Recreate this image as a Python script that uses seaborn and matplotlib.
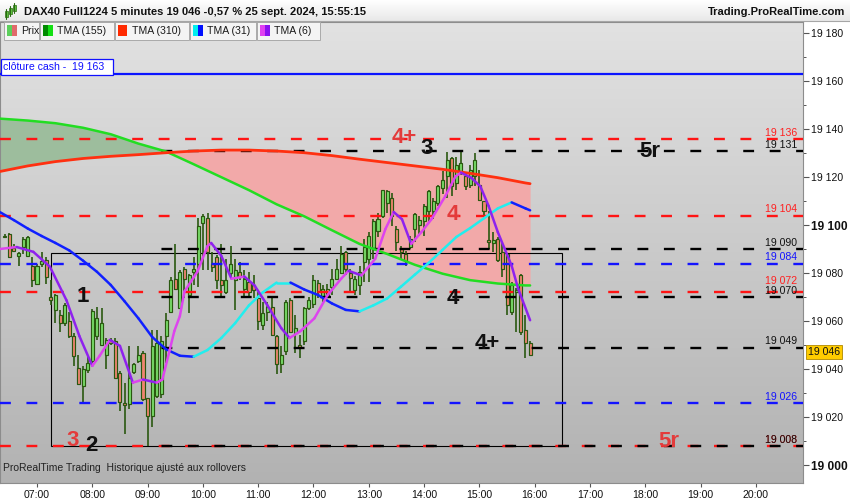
import numpy as np
import matplotlib
matplotlib.use('Agg')
import matplotlib.pyplot as plt
import matplotlib.transforms as mtransforms
import seaborn as sns
from matplotlib.patches import Rectangle
from matplotlib.lines import Line2D
from matplotlib.collections import LineCollection
from matplotlib.colors import LinearSegmentedColormap

# ── 1. Data ──────────────────────────────────────────────────
first_bar = '06:25'   # 5-minute bars, last one at 15:55

bar_open = [
    19095.5, 19096.3, 19090.5, 19087.1, 19090.8, 19087.3, 19083.2, 19075.7, 19084.0, 19085.3,
    19070.0, 19064.7, 19062.6, 19059.2, 19059.9, 19053.7, 19040.6, 19033.0, 19039.8, 19043.4,
    19053.7, 19050.2, 19046.1, 19052.0, 19051.6, 19038.5, 19026.0, 19025.5, 19038.8, 19043.4,
    19046.8, 19028.2, 19020.7, 19028.9, 19029.6, 19053.7, 19064.0, 19077.7, 19065.4, 19081.9,
    19070.8, 19080.5, 19083.9, 19101.1, 19103.2, 19084.0, 19086.7, 19077.0, 19072.2, 19080.0,
    19077.0, 19080.5, 19073.6, 19076.3, 19075.0, 19069.5, 19058.5, 19064.0, 19066.0, 19053.7,
    19042.0, 19047.5, 19068.8, 19055.0, 19050.0, 19051.6, 19065.4, 19067.0, 19076.0, 19070.0,
    19073.6, 19074.3, 19077.7, 19080.0, 19088.7, 19080.0, 19072.9, 19075.0, 19084.6, 19086.0,
    19090.1, 19097.7, 19103.8, 19109.3, 19111.4, 19098.3, 19090.0, 19088.0, 19090.8, 19098.3,
    19100.0, 19101.8, 19105.9, 19105.9, 19109.3, 19115.5, 19120.3, 19127.9, 19117.6, 19121.7,
    19120.3, 19116.9, 19120.3, 19116.9, 19110.0, 19094.0, 19092.5, 19094.2, 19088.7, 19087.9,
    19064.0, 19072.0, 19079.1, 19056.4, 19050.9]
bar_high = [
    19096.5, 19096.8, 19092.2, 19088.7, 19094.9, 19095.5, 19086.7, 19083.9, 19088.7, 19086.7,
    19077.0, 19071.5, 19064.7, 19067.4, 19064.0, 19055.0, 19046.1, 19041.3, 19045.4, 19065.0,
    19065.8, 19065.4, 19053.0, 19053.0, 19053.0, 19039.2, 19034.4, 19049.5, 19042.7, 19049.5,
    19047.5, 19028.2, 19056.4, 19056.4, 19053.7, 19063.3, 19078.4, 19092.2, 19081.5, 19082.5,
    19079.8, 19086.7, 19103.2, 19104.5, 19105.0, 19088.7, 19087.4, 19092.2, 19086.0, 19091.5,
    19086.0, 19084.6, 19081.2, 19080.5, 19079.1, 19072.2, 19068.1, 19068.1, 19069.5, 19054.4,
    19049.5, 19068.8, 19069.5, 19062.6, 19054.4, 19066.0, 19070.2, 19079.1, 19077.0, 19075.0,
    19075.7, 19081.9, 19086.0, 19091.5, 19089.4, 19081.9, 19079.0, 19083.2, 19094.2, 19097.0,
    19102.5, 19105.2, 19114.8, 19114.8, 19113.5, 19099.7, 19091.5, 19089.4, 19095.6, 19105.2,
    19103.8, 19108.7, 19114.8, 19111.4, 19116.9, 19122.4, 19130.6, 19128.6, 19128.6, 19130.6,
    19122.0, 19125.1, 19130.0, 19123.1, 19110.0, 19105.9, 19097.0, 19094.9, 19092.9, 19088.0,
    19076.3, 19074.0, 19079.8, 19062.6, 19051.6]
bar_low = [
    19094.5, 19086.5, 19088.7, 19083.2, 19088.0, 19086.7, 19074.3, 19075.0, 19082.5, 19075.7,
    19066.7, 19059.2, 19055.7, 19057.8, 19053.0, 19041.3, 19033.4, 19025.5, 19038.5, 19042.7,
    19052.3, 19049.5, 19039.9, 19050.0, 19035.8, 19022.7, 19013.1, 19023.4, 19037.8, 19042.7,
    19026.8, 19008.0, 19015.9, 19028.2, 19028.2, 19042.7, 19063.3, 19072.9, 19065.0, 19069.5,
    19063.3, 19075.0, 19074.3, 19081.2, 19081.2, 19080.5, 19073.6, 19069.5, 19071.5, 19077.7,
    19064.7, 19077.0, 19069.5, 19069.5, 19069.5, 19056.4, 19056.4, 19059.9, 19053.7, 19037.9,
    19038.6, 19046.1, 19055.0, 19046.8, 19044.7, 19050.2, 19064.7, 19065.4, 19069.5, 19068.0,
    19069.5, 19070.8, 19077.0, 19079.8, 19079.1, 19072.2, 19070.8, 19070.8, 19076.3, 19076.3,
    19086.0, 19094.9, 19103.0, 19105.2, 19099.7, 19089.4, 19086.0, 19083.2, 19090.1, 19092.9,
    19095.6, 19095.6, 19101.1, 19102.5, 19108.0, 19112.8, 19111.4, 19112.1, 19114.8, 19121.0,
    19114.8, 19115.5, 19116.2, 19110.0, 19102.5, 19090.1, 19088.7, 19084.6, 19078.4, 19062.6,
    19062.6, 19055.7, 19054.4, 19044.7, 19045.8]
bar_close = [
    19095.0, 19086.9, 19089.1, 19088.3, 19094.2, 19095.2, 19077.0, 19083.2, 19085.0, 19078.4,
    19069.0, 19070.8, 19059.2, 19066.7, 19053.7, 19045.4, 19033.7, 19039.9, 19042.7, 19064.4,
    19061.2, 19059.2, 19052.3, 19051.0, 19036.5, 19026.2, 19025.0, 19036.5, 19042.0, 19046.1,
    19027.5, 19020.7, 19049.5, 19050.9, 19051.6, 19060.5, 19077.0, 19073.6, 19080.5, 19077.7,
    19079.1, 19081.9, 19099.7, 19103.9, 19088.7, 19082.5, 19077.0, 19075.0, 19077.0, 19084.0,
    19081.2, 19078.4, 19077.7, 19072.2, 19073.0, 19059.9, 19063.3, 19066.0, 19054.4, 19042.0,
    19046.1, 19068.1, 19055.7, 19057.0, 19049.0, 19065.4, 19068.8, 19077.0, 19072.0, 19073.6,
    19071.0, 19077.7, 19081.9, 19088.0, 19081.9, 19078.0, 19077.7, 19080.5, 19090.8, 19095.6,
    19101.8, 19102.5, 19114.8, 19114.2, 19103.8, 19092.9, 19089.0, 19085.0, 19094.2, 19104.5,
    19102.0, 19108.0, 19114.2, 19110.0, 19116.2, 19119.0, 19127.2, 19116.2, 19125.1, 19125.8,
    19116.2, 19123.1, 19127.2, 19110.7, 19105.9, 19093.0, 19094.0, 19085.3, 19081.9, 19066.8,
    19075.0, 19073.0, 19055.7, 19051.0, 19046.0]

# slow averages, sampled every 30 min from 06:20 plus the last bar
slow_times = ['06:20', '06:50', '07:20', '07:50', '08:20', '08:50', '09:20', '09:50', '10:20',
              '10:50', '11:20', '11:50', '12:20', '12:50', '13:20', '13:50', '14:20', '14:50',
              '15:20', '15:50', '15:55']
tma155 = [19144.4, 19143.6, 19142.5, 19140.6, 19137.9, 19134.0, 19130.7, 19125.4, 19120.0,
          19114.6, 19108.7, 19103.7, 19097.9, 19092.2, 19088.0, 19083.5, 19079.8, 19077.1,
          19075.7, 19074.9, 19074.9]
tma310 = [19122.4, 19124.7, 19126.5, 19127.8, 19128.7, 19129.4, 19130.2, 19130.9, 19131.3,
          19131.3, 19130.9, 19130.2, 19129.0, 19127.5, 19126.1, 19124.7, 19123.3, 19121.6,
          19119.8, 19117.6, 19117.3]

# TMA(31), sampled every 15 min from 06:20 plus the last bar
mid_times = ['06:20', '06:35', '06:50', '07:05', '07:20', '07:35', '07:50', '08:05', '08:20',
             '08:35', '08:50', '09:05', '09:20', '09:35', '09:50', '10:05', '10:20', '10:35',
             '10:50', '11:05', '11:20', '11:35', '11:50', '12:05', '12:20', '12:35', '12:50',
             '13:05', '13:20', '13:35', '13:50', '14:05', '14:20', '14:35', '14:50', '15:05',
             '15:20', '15:35', '15:50', '15:55']
tma31 = [19105.4, 19102.1, 19098.6, 19095.5, 19092.6, 19089.5, 19085.2, 19080.6, 19075.1,
         19068.3, 19061.2, 19053.4, 19048.3, 19045.6, 19045.2, 19048.0, 19053.0, 19059.2,
         19066.6, 19072.0, 19076.1, 19076.1, 19073.2, 19070.9, 19067.4, 19064.7, 19064.1,
         19066.6, 19069.5, 19074.4, 19079.4, 19084.3, 19089.7, 19095.1, 19098.8, 19102.9,
         19107.0, 19109.5, 19107.0, 19106.2]

# TMA(6)
fast_times = ['06:20', '06:38', '06:56', '07:14', '07:32', '07:46', '08:00', '08:08', '08:19',
              '08:30', '08:44', '08:55', '09:10', '09:16', '09:24', '09:29', '09:35', '09:40',
              '09:54', '10:05', '10:09', '10:20', '10:31', '10:45', '10:56', '11:10', '11:25',
              '11:34', '11:46', '12:01', '12:15', '12:30', '12:38', '12:52', '13:07', '13:18',
              '13:27', '13:36', '13:46', '13:57', '14:08', '14:23', '14:34', '14:40', '14:51',
              '15:01', '15:10', '15:20', '15:35', '15:42', '15:55']
tma6 = [19090.1, 19090.9, 19088.9, 19082.7, 19068.7, 19053.8, 19041.4, 19045.6, 19052.2,
        19049.7, 19034.4, 19035.7, 19034.4, 19035.7, 19048.0, 19055.9, 19062.1, 19072.4,
        19080.6, 19091.3, 19092.6, 19087.2, 19077.7, 19078.6, 19074.9, 19066.6, 19057.1,
        19053.0, 19055.9, 19061.2, 19070.7, 19077.7, 19081.0, 19079.1, 19086.0, 19098.4,
        19105.5, 19102.5, 19092.2, 19097.1, 19102.5, 19112.1, 19120.3, 19121.9, 19119.8,
        19116.2, 19108.0, 19097.1, 19083.1, 19073.6, 19060.4]

# horizontal levels
levels_red = [19136, 19104, 19072, 19008]
levels_blue = [19084, 19026]
levels_black = [19131, 19090, 19070, 19049, 19008]
cash_close = 19163
box_top = 19088.5
box_start, box_end = '07:15', '16:30'
last_price = 19046
title = 'DAX40 Full1224 5 minutes 19 046 -0,57 % 25 sept. 2024, 15:55:15'

# ── 2. Helpers ───────────────────────────────────────────────
W, H = 850, 500


def fx(px):
    return px / W


def fy(py):
    return 1 - py / H


def hrs(s):
    hh, mm = s.split(':')
    return int(hh) + int(mm) / 60


def fmt(v):
    return f'{int(round(v)):,}'.replace(',', ' ')


RED = '#ff1414'
BLUE = '#1414ff'
LBL_RED = '#e33b3b'
EDGE = '#2a5810'

sns.set_theme(style='white')
plt.rcParams['font.family'] = ['Liberation Sans', 'DejaVu Sans']

fig = plt.figure(figsize=(8.5, 5), dpi=100, facecolor='white')

# time axis: 55.3 px per hour, 07:00 at x=37 ; price axis: 2.40 px per point
X0 = 7 - 37 / 55.3
X1 = 7 + (803 - 37) / 55.3
Y0 = 19100 - (483 - 225.2) / 2.40
Y1 = 19100 + (225.2 - 22) / 2.40

ax = fig.add_axes([0, fy(483), fx(803), (483 - 22) / H])
grad = np.linspace(0, 1, 256).reshape(-1, 1)
ax.imshow(grad, cmap=LinearSegmentedColormap.from_list('bg', ['#e2e2e2', '#b2b2b2']),
          aspect='auto', extent=(0, 1, 0, 1), transform=ax.transAxes, zorder=0)

# ── 3. Zone between the two slow averages ────────────────────
t_slow = np.array([hrs(s) for s in slow_times])
g = np.array(tma155)
r = np.array(tma310)
ax.fill_between(t_slow, g, r, where=r >= g, interpolate=True, color='#f2a9a9', lw=0, zorder=1)
ax.fill_between(t_slow, g, r, where=g >= r, interpolate=True, color='#9dbd9d', lw=0, zorder=1)

# ── 4. Box and levels ────────────────────────────────────────
t0, t1 = hrs(box_start), hrs(box_end)
low_i = int(np.argmin(bar_low))
t_bar = hrs(first_bar) + np.arange(len(bar_open)) / 12
box_bottom = bar_low[low_i]
ax.add_patch(Rectangle((t0, box_bottom), t1 - t0, box_top - box_bottom, fill=False,
                       ec='black', lw=0.8, zorder=2))

dash = (0, (4.6, 6.6))
for p in levels_red:
    ax.plot([X0, X1], [p, p], color=RED, lw=1.7, ls=dash, zorder=5)
for p in levels_blue:
    ax.plot([X0, X1], [p, p], color=BLUE, lw=1.7, ls=dash, zorder=5)
for p in levels_black:
    ax.plot([t_bar[low_i], X1], [p, p], color='black', lw=1.7, ls=(5.5, (4.6, 6.6)), zorder=5)
ax.axhline(cash_close, color='#0a14ff', lw=1.6, zorder=5)

# right-hand level tags, the upper one of a close pair lifted clear of its neighbour
x_lab = 7 + (797 - 37) / 55.3
all_levels = sorted(set(levels_red + levels_blue + levels_black))
for levels, col in [(levels_red, '#ff2020'), (levels_blue, BLUE), (levels_black, '#111111')]:
    for p in levels:
        close_below = any(0 < p - q <= 3 for q in all_levels)
        ax.text(x_lab, p + (3.6 if close_below else 1.3), fmt(p), color=col, fontsize=7.6,
                ha='right', va='baseline', zorder=7)

# ── 5. Candles ───────────────────────────────────────────────
o = np.array(bar_open)
h = np.array(bar_high)
lo = np.array(bar_low)
c = np.array(bar_close)
ax.vlines(t_bar, lo, h, color=EDGE, lw=1.2, zorder=3)
ax.bar(t_bar, c - o, bottom=o, width=0.055, color=np.where(c >= o, '#7ade6a', '#f08570'),
       edgecolor=EDGE, linewidth=0.85, zorder=4)

# ── 6. Moving averages ───────────────────────────────────────
sns.lineplot(x=t_slow, y=g, ax=ax, color='#22dd22', lw=1.8, zorder=6, estimator=None, sort=False)
sns.lineplot(x=t_slow, y=r, ax=ax, color='#ff3010', lw=2.0, zorder=6, estimator=None, sort=False)


def two_tone(t, v, up_col, down_col):
    t = np.asarray(t)
    v = np.asarray(v)
    pts = np.column_stack([t, v])
    segs = np.stack([pts[:-1], pts[1:]], axis=1)
    cols = [up_col if b >= a else down_col for a, b in zip(v[:-1], v[1:])]
    ax.add_collection(LineCollection(segs, colors=cols, linewidths=1.8,
                                     capstyle='round', joinstyle='round', zorder=6))


two_tone([hrs(s) for s in mid_times], tma31, '#22eeee', '#1020ff')
two_tone([hrs(s) for s in fast_times], tma6, '#dd44ee', '#8f22ee')

# ── 7. Wave labels ───────────────────────────────────────────
marks = [('4+', '13:38', 19136.5, LBL_RED), ('3', '14:03', 19132.0, '#111111'),
         ('5r', '18:05', 19130.9, '#111111'), ('4', '14:31', 19104.5, LBL_RED),
         ('1', '07:50', 19070.3, '#111111'), ('4', '14:31', 19069.5, '#111111'),
         ('4+', '15:08', 19050.9, '#111111'), ('3', '07:39', 19010.5, LBL_RED),
         ('2', '07:59', 19008.3, '#111111'), ('5r', '18:26', 19009.7, LBL_RED)]
for txt, tt, p, col in marks:
    ax.text(hrs(tt), p, txt, color=col, fontsize=16, fontweight='bold', ha='center',
            va='center', zorder=8)

ax.text(0.004, 0.022, 'ProRealTime Trading  Historique ajusté aux rollovers', transform=ax.transAxes,
        fontsize=7.5, color='#222222', ha='left', va='bottom', zorder=8)

# ── 8. Axes ──────────────────────────────────────────────────
ax.set_xlim(X0, X1)
ax.set_ylim(Y0, Y1)
ax.yaxis.tick_right()
yt = np.arange(19000, 19181, 20)
ax.set_yticks(yt)
ax.set_yticklabels([fmt(v) for v in yt])
ax.set_yticks(np.arange(19010, 19181, 20), minor=True)
for lab, v in zip(ax.get_yticklabels(), yt):
    lab.set_fontsize(8.6 if v % 100 == 0 else 7.6)
    lab.set_fontweight('bold' if v % 100 == 0 else 'normal')
ax.tick_params(axis='y', which='major', right=True, length=4, width=0.8, color='#555555',
               pad=2, labelcolor='#111111')
ax.tick_params(axis='y', which='minor', right=True, length=2, width=0.7, color='#555555')
xt = np.arange(7, 21)
ax.set_xticks(xt)
ax.set_xticklabels([f'{v:02d}:00' for v in xt])
ax.tick_params(axis='x', bottom=True, length=3, width=0.8, color='#555555', pad=2,
               labelsize=7.6, labelcolor='#111111')
for s in ax.spines.values():
    s.set_color('#8c8c8c')
    s.set_linewidth(0.8)
ax.grid(False)

ax.text(1.006, last_price + 1.2, fmt(last_price),
        transform=mtransforms.blended_transform_factory(ax.transAxes, ax.transData),
        fontsize=7.6, ha='left', va='center', color='#111111', clip_on=False, zorder=9,
        bbox=dict(boxstyle='square,pad=0.18', fc='#ffcc00', ec='#b08800', lw=0.6))

# ── 9. Header, legend row, cash close tag ────────────────────
hax = fig.add_axes([0, fy(21), 1, 21 / H])
hax.imshow(grad, cmap=LinearSegmentedColormap.from_list('hd', ['#ffffff', '#e8e8e8']),
           aspect='auto', extent=(0, 1, 0, 1))
hax.axis('off')
fig.add_artist(Line2D([0, 1], [fy(21), fy(21)], color='#a6a6a6', lw=0.8))
fig.text(fx(24), fy(12), title, fontsize=8, fontweight='bold', ha='left', va='center', color='#111111')
fig.text(fx(845), fy(12), 'Trading.ProRealTime.com', fontsize=8, fontweight='bold', ha='right',
         va='center', color='#111111')
for px, top, bot in [(6, 11, 17), (10, 8, 14), (14, 5, 11)]:
    fig.add_artist(Line2D([fx(px), fx(px)], [fy(top - 2), fy(bot + 2)], color='#2b6a12', lw=0.8))
    fig.patches.append(Rectangle((fx(px - 1.5), fy(bot)), fx(3), (bot - top) / H, fc='#5cc83c',
                                 ec='#2b6a12', lw=0.5, transform=fig.transFigure, figure=fig))

legend_items = [('Prix', 4, 39, '#5ccf5c', '#e06a6a'), ('TMA (155)', 40, 114, '#008a00', '#14e014'),
                ('TMA (310)', 115, 189, '#ff2a00', '#ff2a00'), ('TMA (31)', 190, 256, '#00eeee', '#0010ff'),
                ('TMA (6)', 257, 320, '#e040f0', '#8a10f0')]
for name, x0, x1, c1, c2 in legend_items:
    fig.patches.append(Rectangle((fx(x0), fy(39.5)), fx(x1 - x0), 17.5 / H, fc='#f4f4f4', ec='#aaaaaa',
                                 lw=0.7, transform=fig.transFigure, figure=fig))
    fig.patches.append(Rectangle((fx(x0 + 2.5), fy(36)), fx(5), 10.5 / H, fc=c1, lw=0,
                                 transform=fig.transFigure, figure=fig))
    fig.patches.append(Rectangle((fx(x0 + 7.5), fy(36)), fx(5), 10.5 / H, fc=c2, lw=0,
                                 transform=fig.transFigure, figure=fig))
    fig.text(fx(x0 + 17), fy(31), name, fontsize=7.6, ha='left', va='center', color='#1a1a1a')

fig.patches.append(Rectangle((fx(0.5), fy(75)), fx(112), 16 / H, fc='white', ec='#1010ff', lw=0.9,
                             transform=fig.transFigure, figure=fig))
fig.text(fx(3), fy(67), f'clôture cash -  {fmt(cash_close)}', fontsize=7.6, ha='left', va='center',
         color='#1010ff')

fig.savefig('out.png', dpi=100, facecolor='white')
plt.close(fig)
